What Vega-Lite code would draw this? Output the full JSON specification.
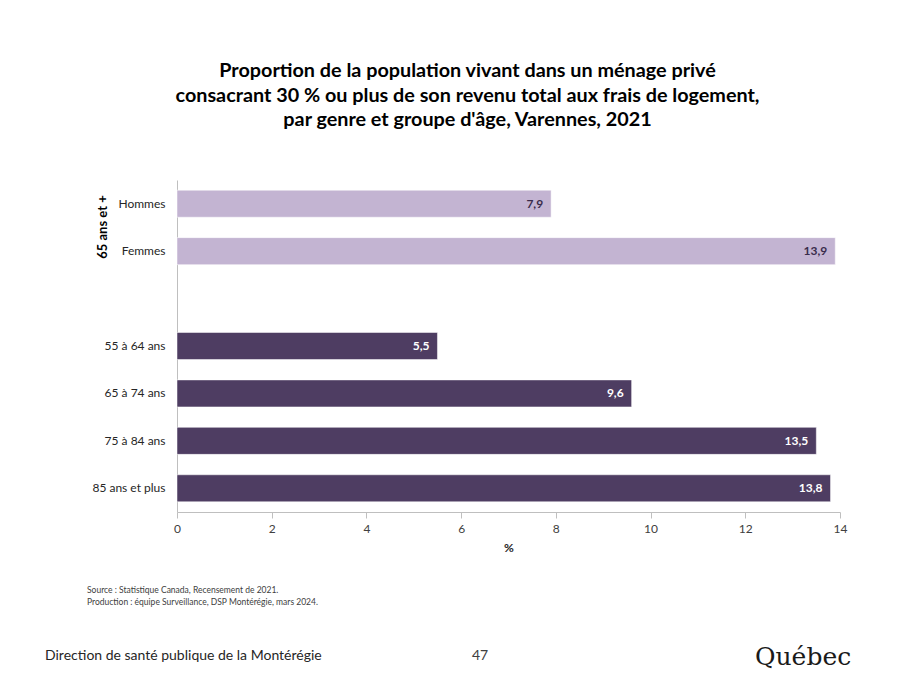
{
  "$schema": "https://vega.github.io/schema/vega-lite/v6.json",
  "width": 663,
  "height": 332,
  "autosize": {"type": "none"},
  "padding": {"left": 177, "top": 180, "right": 62, "bottom": 174},
  "background": "white",
  "config": {
    "font": "Lato",
    "view": {"stroke": null},
    "locale": {"number": {"decimal": ",", "thousands": " ", "grouping": [3], "currency": ["", " $"]}}
  },
  "title": {
    "text": ["Proportion de la population vivant dans un ménage privé", "consacrant 30 % ou plus de son revenu total aux frais de logement,", "par genre et groupe d'âge, Varennes, 2021"],
    "anchor": "middle",
    "frame": "group",
    "dx": -41,
    "offset": 50,
    "fontSize": 19.8,
    "fontWeight": "bold",
    "lineHeight": 24.5,
    "color": "#000000",
    "font": "Lato"
  },
  "data": {
    "values": [
      {"categorie": "Hommes", "pct": 7.9, "groupe": "Genre"},
      {"categorie": "Femmes", "pct": 13.9, "groupe": "Genre"},
      {"categorie": "55 à 64 ans", "pct": 5.5, "groupe": "Âge"},
      {"categorie": "65 à 74 ans", "pct": 9.6, "groupe": "Âge"},
      {"categorie": "75 à 84 ans", "pct": 13.5, "groupe": "Âge"},
      {"categorie": "85 ans et plus", "pct": 13.8, "groupe": "Âge"}
    ]
  },
  "layer": [
    {
      "mark": {"type": "bar", "stroke": "#ffffff", "strokeWidth": 0.5},
      "encoding": {
        "y": {
          "field": "categorie", "type": "nominal",
          "scale": {"domain": ["Hommes", "Femmes", " ", "55 à 64 ans", "65 à 74 ans", "75 à 84 ans", "85 ans et plus"], "paddingInner": 0.43, "paddingOuter": 0.215},
          "axis": {"title": null, "ticks": false, "domainColor": "#bfbfbf", "domainWidth": 1, "labelFontSize": 12, "labelColor": "#262626", "labelPadding": 12, "labelFont": "Lato"}
        },
        "x": {
          "field": "pct", "type": "quantitative",
          "scale": {"domain": [0, 14], "nice": false},
          "axis": {"title": "%", "titleFontSize": 12, "titleFontWeight": "bold", "titleColor": "#262626", "titlePadding": 8, "values": [0, 2, 4, 6, 8, 10, 12, 14], "format": "d", "grid": false, "labelFlush": false, "tickColor": "#bfbfbf", "tickSize": 6, "domainColor": "#bfbfbf", "labelFontSize": 12, "labelColor": "#404040", "labelPadding": 5}
        },
        "color": {
          "field": "groupe", "type": "nominal",
          "scale": {"domain": ["Genre", "Âge"], "range": ["#c3b4d2", "#4e3d62"]},
          "legend": null
        }
      }
    },
    {
      "mark": {"type": "text", "align": "right", "baseline": "middle", "dx": -8, "fontSize": 12, "fontWeight": "bold"},
      "encoding": {
        "y": {"field": "categorie", "type": "nominal"},
        "x": {"field": "pct", "type": "quantitative"},
        "text": {"field": "pct", "type": "quantitative", "format": ".1f"},
        "color": {
          "field": "groupe", "type": "nominal",
          "scale": {"domain": ["Genre", "Âge"], "range": ["#c3b4d2", "#4e3d62"]},
          "legend": null
        },
        "fill": {
          "field": "groupe", "type": "nominal",
          "scale": {"domain": ["Genre", "Âge"], "range": ["#3a2c4c", "#ffffff"]},
          "legend": null
        }
      }
    },
    {
      "data": {"values": [{}]},
      "mark": {"type": "text", "text": "65 ans et +", "angle": 270, "x": -74, "y": 47, "align": "center", "baseline": "middle", "fontSize": 13, "fontWeight": "bold", "color": "#000000"},
      "encoding": {}
    },
    {
      "data": {"values": [{}]},
      "mark": {"type": "text", "text": "Source : Statistique Canada, Recensement de 2021.", "x": -90, "y": 410, "align": "left", "baseline": "middle", "fontSize": 8.5, "color": "#404040"},
      "encoding": {}
    },
    {
      "data": {"values": [{}]},
      "mark": {"type": "text", "text": "Production : équipe Surveillance, DSP Montérégie, mars 2024.", "x": -90, "y": 422, "align": "left", "baseline": "middle", "fontSize": 8.5, "color": "#404040"},
      "encoding": {}
    },
    {
      "data": {"values": [{}]},
      "mark": {"type": "text", "text": "Direction de santé publique de la Montérégie", "x": -132, "y": 476, "align": "left", "baseline": "middle", "fontSize": 14, "color": "#262626"},
      "encoding": {}
    },
    {
      "data": {"values": [{}]},
      "mark": {"type": "text", "text": "47", "x": 303, "y": 476, "align": "center", "baseline": "middle", "fontSize": 14, "color": "#404040"},
      "encoding": {}
    },
    {
      "data": {"values": [{}]},
      "mark": {"type": "text", "text": "Québec", "x": 578, "y": 477, "align": "left", "baseline": "middle", "fontSize": 25, "font": "DejaVu Serif", "color": "#1a1a1a"},
      "encoding": {}
    }
  ]
}
